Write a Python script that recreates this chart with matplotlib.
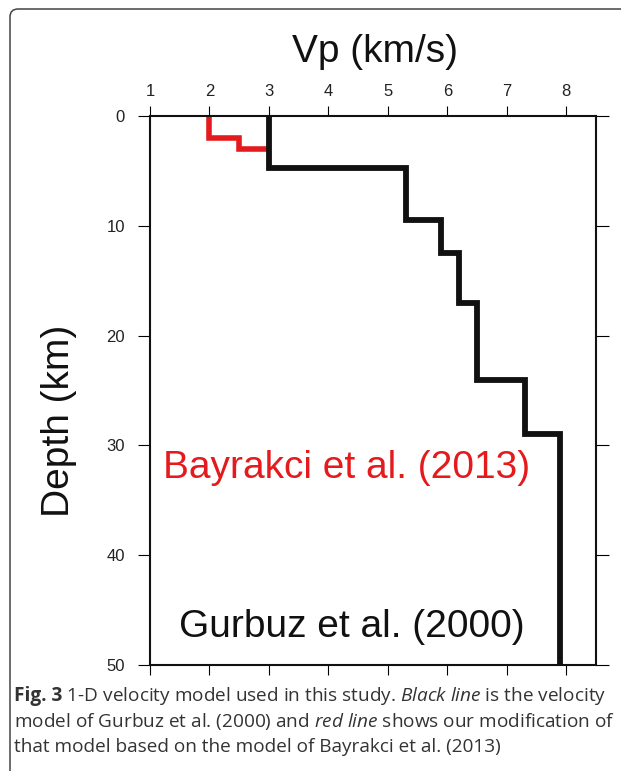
import matplotlib
matplotlib.use("Agg")
import matplotlib.pyplot as plt
from matplotlib.patches import FancyBboxPatch

# 1-D velocity models: layer-top depths (km) and Vp (km/s), drawn as steps
gurbuz_depth = [0, 4.7, 9.5, 12.5, 17, 24, 29, 50]
gurbuz_vp = [3.0, 5.3, 5.9, 6.2, 6.5, 7.3, 7.9]

# modified shallow layers, above the 3.0 km/s layer of the base model
bayrakci_depth = [0, 2, 3]
bayrakci_vp = [2.0, 2.5]

x_ticks = [1, 2, 3, 4, 5, 6, 7, 8]
y_ticks = [0, 10, 20, 30, 40, 50]

caption_label = "Fig. 3"
caption = [
    r" 1-D velocity model used in this study. $\mathit{Black}$ $\mathit{line}$ is the velocity",
    r"model of Gurbuz et al. (2000) and $\mathit{red}$ $\mathit{line}$ shows our modification of",
    "that model based on the model of Bayrakci et al. (2013)",
]

plt.rcParams["font.family"] = ["Liberation Sans", "DejaVu Sans"]
plt.rcParams["mathtext.fontset"] = "custom"
plt.rcParams["mathtext.rm"] = "Open Sans"
plt.rcParams["mathtext.it"] = "Open Sans:italic"
plt.rcParams["mathtext.bf"] = "Open Sans:bold"


def step_xy(depths, vps):
    # turn layer tops + velocities into a staircase path
    xs, ys = [], []
    for i, v in enumerate(vps):
        xs += [v, v]
        ys += [depths[i], depths[i + 1]]
    return xs, ys


W, H = 621, 771
fig = plt.figure(figsize=(W / 100, H / 100), dpi=100)

# rounded frame around the figure panel
frame = FancyBboxPatch((10 / W, -0.1), 1.2, 1.1 - 9 / H,
                       boxstyle="round,pad=0,rounding_size=0.013",
                       mutation_aspect=W / H, transform=fig.transFigure,
                       facecolor="none", edgecolor="#444444", lw=1.1)
fig.patches.append(frame)

ax = fig.add_axes([150 / W, 1 - 665 / H, 446 / W, 549 / H])

bx, by = step_xy(bayrakci_depth, bayrakci_vp)
# close the red path onto the top of the base model's 3.0 km/s layer
bx.append(gurbuz_vp[0])
by.append(bayrakci_depth[-1])
ax.plot(bx, by, color="#e41a1c", lw=4, solid_joinstyle="miter", solid_capstyle="butt")
gx, gy = step_xy(gurbuz_depth, gurbuz_vp)
ax.plot(gx, gy, color="#111111", lw=4.2, solid_joinstyle="miter", solid_capstyle="butt")

ax.set_xlim(1, 8.5)
ax.set_ylim(50, 0)
ax.set_xticks(x_ticks)
ax.set_yticks(y_ticks)
ax.tick_params(axis="x", top=True, bottom=True, labeltop=True, labelbottom=False,
               direction="out", length=7.5, width=0.8, pad=5, labelsize=12,
               labelcolor="#222222")
ax.tick_params(axis="y", left=True, right=True, labelleft=True, labelright=False,
               direction="out", length=9, width=0.8, pad=9, labelsize=12,
               labelcolor="#222222")
for s in ax.spines.values():
    s.set_linewidth(1.5)
    s.set_color("#111111")

ax.text(4.30, 33.0, "Bayrakci et al. (2013)", color="#e41a1c", fontsize=28,
        ha="center", va="baseline")
ax.text(4.39, 47.45, "Gurbuz et al. (2000)", color="#111111", fontsize=28,
        ha="center", va="baseline")

fig.text(375 / W, 1 - 62 / H, "Vp (km/s)", fontsize=28, ha="center", va="baseline",
         color="#111111")
fig.text(59 / W, 1 - 421 / H, "Depth (km)", fontsize=28, rotation=90,
         ha="center", va="center", color="#111111")

# caption: bold figure label, then the rest of the first line right after it
cap_kw = dict(fontsize=13.7, family="Open Sans", color="#333333", va="baseline")
label = fig.text(14 / W, 1 - 701 / H, caption_label, fontweight="bold",
                 ha="left", **cap_kw)
fig.canvas.draw()
label_end = label.get_window_extent().x1 / W

for i, line in enumerate(caption):
    x0 = label_end if i == 0 else 14 / W
    fig.text(x0, 1 - (701 + 25.5 * i) / H, line, ha="left", **cap_kw)

fig.savefig("out.png", dpi=100, facecolor="white")
